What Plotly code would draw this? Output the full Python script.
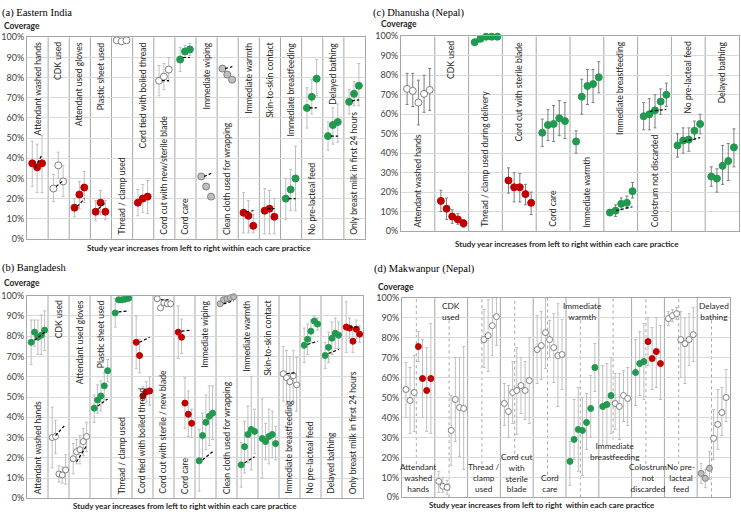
import numpy as np
import plotly.graph_objects as go

W, H = 741, 517
FONT = "Lato, 'Open Sans', sans-serif"
SERIF = "'Liberation Serif', 'DejaVu Serif', serif"
TXT = "#262626"

# ---------------- (a) Eastern India: 3 study years ----------------
a_cats = ["Attendant washed hands", "CDK used", "Attendant used gloves", "Plastic sheet used",
          "Thread / clamp used", "Cord tied with boiled thread", "Cord cut with new/sterile blade",
          "Cord care", "Immediate wiping", "Clean cloth used for wrapping", "Immediate warmth",
          "Skin-to-skin contact", "Immediate breastfeeding", "No pre-lacteal feed",
          "Delayed bathing", "Only breast milk in first 24 hours"]
a_kind = list("rwrrwrwgkkrrgggg")
a_vals = [[37.5, 35.5, 37.5], [25, 36.5, 28.5], [15.5, 22, 25.5], [13.5, 18, 13.5],
          [98.5, 98, 98.5], [18, 20, 21], [78.5, 80.5, 84], [89, 93, 94],
          [31, 26, 21], [84.5, 81.5, 79], [13, 11.5, 6.5], [14, 15, 11],
          [20, 24.5, 30], [65, 70.5, 79.5], [51, 56.5, 58], [68, 72, 76]]
a_lo = [[26, 23, 23], [18.5, 30, 21], [11, 15, 18], [9, 12, 9.5],
        None, [11.5, 13, 12.5], [71, 74, 78], [83, 90, 91],
        None, None, [3, 3, 3], [2.5, 2.5, 2.5],
        [9.5, 14, 14], [55, 62, 71], [44, 47, 48], [62, 66, 66]]
a_hi = [[48.5, 47, 51.5], [32, 43, 36.5], [20, 28.5, 33.5], [19, 24, 19],
        None, [24.5, 27, 29], [86, 87, 90], [95, 96, 97],
        None, None, [23, 19, 12], [25, 24, 20],
        [30, 34.5, 46], [75, 79, 89], [58, 65, 67], [74, 78, 87]]
a_trend = [[35.5, 42], [26, 29], [16, 20], [15, 18], None, None, [78.5, 78.5], [90, 90],
           [31, 32.5], [84.5, 85.5], [13.5, 14], [15, 15], [20, 20], [65, 65], [51, 51], [68.5, 69]]
a_label_at = ["top", "top", "top", "top", "bottom", "top", "bottom", "bottom",
              "top", "bottom", "top", "top", "top", "bottom", "top", "bottom"]

# ---------------- (b) Bangladesh: 5 study years ----------------
b_cats = ["Attendant washed hands", "CDK used", "Attendant used gloves", "Plastic sheet used",
          "Thread / clamp used", "Cord tied with boiled thread", "Cord cut with sterile / new blade",
          "Cord care", "Immediate wiping", "Clean cloth used for wrapping", "Immediate warmth",
          "Skin-to-skin contact", "Immediate breastfeeding", "No pre-lacteal feed",
          "Delayed bathing", "Only breast milk in first 24 hours"]
b_kind = list("gwwggrwrgkggwggr")
b_vals = [[77, 82, 79.5, 80.5, 83], [30, 30.5, 12, 11.5, 14], [19.5, 23, 24, 28, 30.5],
          [44.5, 48.5, 50.5, 55.5, 63], [91.5, 98, 98, 98.3, 98.7], [77, 70.5, 50.5, 52.5, 53],
          [98.5, 94, 96.5, 96, 96], [82, 79.5, 47, 41.5, 37], [18.5, 31, 37.5, 40.5, 42],
          [96, 98, 98.5, 99, 99.5], [16.5, 25.5, 31.5, 34, 33], [29.5, 28, 30.5, 31.5, 27],
          [61.5, 59.5, 57.5, 60.5, 56], [75.5, 78.5, 82.5, 87.5, 86], [70.5, 74.5, 79, 81.5, 80.5],
          [84.5, 84, 77.5, 83.5, 81]]
b_lo = [[66, 75, 71, 71, 73], [15, 22, 8, 7.5, 7], [12, 17, 17, 21, 23],
        [37.5, 42, 43, 48.5, 57.5], [84.5, 97, 97, 97.5, 98], [64, 62, 46, 47.5, 46],
        None, [69, 71.5, 34.5, 30.5, 30], [3.5, 20, 24, 26, 29],
        None, [5.5, 12.5, 17.5, 14, 22], [10, 19, 17, 20, 19],
        [48, 46, 45, 48, 43], [67, 71, 77, 85, 83], [64, 67, 71, 74, 74],
        [72, 79, 72, 79, 77]]
b_hi = [[88, 88, 88, 90.5, 92.5], [45, 38.5, 16, 15.5, 21.5], [27, 29, 31, 34.5, 37.5],
        [51, 56, 58, 62, 68.5], [98.5, 99, 99, 99, 99.5], [90, 78.5, 55, 57.5, 60],
        None, [95, 88.5, 59.5, 53, 44], [34, 42, 51, 55.5, 55.5],
        None, [27.5, 38, 45.5, 60, 44], [49, 37, 44, 43, 35.5],
        [75, 73, 70, 73, 69.5], [84, 86, 88, 90, 89], [77, 82, 87, 89, 87],
        [97, 89, 83, 88, 85]]
b_trend = [[78, 82], [31, 36.5], [18, 26], [45.5, 49], [92, 92.5], [77, 79.5], [98, 98],
           [82.5, 83], [19, 23], [96, 97.5], [17.5, 20.5], None, [61.5, 62], [76, 77.5],
           [71.5, 73.5], [84.5, 84.5]]
b_label_at = ["bottom", "top", "top", "top", "bottom", "bottom", "bottom", "bottom",
              "top", "bottom", "top", "top", "bottom", "bottom", "bottom", "bottom"]

# ---------------- (c) Dhanusha (Nepal): 5 study years ----------------
c_cats = ["Attendant washed hands", "CDK used", "Thread / clamp used during delivery",
          "Cord cut with sterile blade", "Cord care", "Immediate warmth", "Immediate breastfeeding",
          "Colostrum not discarded", "No pre-lacteal feed", "Delayed bathing"]
c_kind = list("wrgrgggggg")
c_vals = [[73, 72, 66, 70.5, 72.5], [15.5, 11.5, 7.5, 6, 4], [97, 98.7, 99.8, 99.8, 99.8],
          [26, 22.5, 22.5, 19, 14.5], [50.5, 54.5, 55, 58, 56.5], [46, 69, 74.5, 75.5, 79],
          [9.5, 10.5, 14, 14.5, 20.5], [59, 60, 62, 66.5, 70], [44, 46.5, 47, 51.5, 55],
          [28, 27, 33.5, 36, 43]]
c_lo = [[65, 64, 54.5, 61, 62], [10, 6, 4, 3.5, 2], None,
        [19.5, 15, 15, 13.5, 8.5], [43.5, 46.5, 46, 49, 47.5], [40, 60, 65, 66, 71],
        [8, 7.5, 11, 12, 17], [52, 52, 53, 60, 64], [38, 40, 41, 47, 50],
        [23, 20, 24, 26, 33]]
c_hi = [[81, 81, 77.5, 80, 83.5], [21, 17, 11, 9, 6], None,
        [32.5, 30, 29.5, 24, 20], [57.5, 62.5, 64.5, 67, 66], [51.5, 78, 83, 83, 87],
        [11, 13.5, 17, 18, 25], [66, 68, 70, 73, 76], [50, 53, 53, 56.5, 60],
        [33, 32, 44, 45, 52.5]]
c_trend = [None, None, None, None, None, None, [10.5, 12.5], [61.5, 62.5], [46, 48], None]
c_label_at = ["bottom", "top", "bottom", "top", "bottom", "bottom", "top", "bottom", "top", "top"]

# ---------------- (d) Makwanpur (Nepal): 7 study years ----------------
d_cats = ["Attendant<br>washed<br>hands", "CDK<br>used", "Thread /<br>clamp<br>used",
          "Cord cut<br>with<br>sterile<br>blade", "Cord<br>care", "Immediate<br>warmth",
          "Immediate<br>breastfeeding", "Colostrum<br>not<br>discarded", "No pre-<br>lacteal<br>feed",
          "Delayed<br>bathing"]
d_kind = ["wr", "ww", "ww", "ww", "ww", "gg", "gw", "gr", "ww", "kw"]
d_vals = [[54, 48.5, 52.5, 75.5, 59.5, 53.5, 59.5], [8, 5.5, 5, 33.5, 49, 45, 44.5],
          [None, None, None, 79, 81, 86, 90.5], [47, 43, 52.5, 53.5, 56, 53.5, 58.5],
          [74, 76, 82.5, 79, 75, 71, 71.5], [18, 29, 34, 33.5, 37.5, 44.5, 65],
          [45.5, 46.5, 51, 47, 45.5, 51, 49.5], [62.5, 67, 68, 78, 69.5, 73, 67],
          [89.5, 91, 92, 79, 77, 79, 81.5], [12, 9.5, 14.5, 29.5, 36.5, 42.5, 50]]
d_lo = [[40, 32, 33, 68, 40, 33, 32], [2.5, 2.5, 1.5, 16, 28, 20.5, 14],
        [None, None, None, 65, 63, 71, 76], [36, 30, 37, 31.5, 42, 39, 37],
        [57, 59, 64.5, 70, 57.5, 45.5, 54], [6, 19, 13, 11, 24, 30, 53],
        [26, 26, 32, 34, 29, 38, 36], [46, 51, 49, 66, 54, 55, 49],
        [86, 88, 89, 60, 57, 66, 68], [7, 5, 9, 19, 24, 31, 38]]
d_hi = [[67.5, 65, 71, 83, 79, 75, 87], [13, 10, 8.5, 51, 70, 70, 75.5],
        [None, None, None, 94, 99, 100, 100], [57, 56, 68, 75, 70, 68, 80],
        [91, 93, 100, 88.5, 92, 97, 89], [28, 49, 55, 50, 52, 61, 77],
        [66, 67, 70, 62, 62, 63.5, 65], [79, 83, 87, 90, 85, 90, 86],
        [93, 94, 95, 93, 90, 92, 95], [17, 14, 23, 44, 54, 55, 64]]
d_trend = [None] * 10
d_label_at = ["bottom", "top", "bottom", "bottom", "bottom", "top", "middle", "bottom", "bottom", "top"]

FILL = {"r": "#c00000", "g": "#1f9a4f", "w": "#ffffff", "k": "#bfbfbf"}
EDGE = {"r": "#c00000", "g": "#1f9a4f", "w": "#7f7f7f", "k": "#7f7f7f"}
GRID = "#d9d9d9"
DIV = "#a6a6a6"

fig = go.Figure()


def add_panel(n, box, cats, vals, lo, hi, kinds, trend, label_at, offsets, span,
              err_col, msize, nepal_style=False):
    xa = "x" if n == 1 else f"x{n}"
    ya = "y" if n == 1 else f"y{n}"
    (x0, x1), (y0, y1) = box
    fig.update_layout(**{
        "xaxis" if n == 1 else f"xaxis{n}": dict(
            domain=[x0 / W, x1 / W], range=[0, len(cats)], anchor=ya,
            showticklabels=False, showgrid=False, zeroline=False, ticks="",
            showline=True, mirror=True, linecolor=DIV, linewidth=1),
        "yaxis" if n == 1 else f"yaxis{n}": dict(
            domain=[1 - y1 / H, 1 - y0 / H], range=[0, 100], anchor=xa,
            tickvals=list(range(0, 101, 10)), ticktext=[f"{v}%" for v in range(0, 101, 10)],
            showgrid=True, gridcolor=GRID, gridwidth=1, zeroline=False, ticks="",
            showline=True, mirror=True, linecolor=DIV, linewidth=1,
            tickfont=dict(family=FONT, size=9, color="#404040")),
    })

    # column dividers
    for i in range(1, len(cats)):
        fig.add_shape(type="line", xref=xa, yref=ya, x0=i, x1=i, y0=0, y1=100,
                      line=dict(color=DIV, width=1), layer="below")

    # points grouped by marker kind
    pts = {}
    for i in range(len(cats)):
        for j, v in enumerate(vals[i]):
            if v is None:
                continue
            k = kinds[i][0] if (len(kinds[i]) == 1 or j < 3) else kinds[i][1]
            p = pts.setdefault(k, dict(x=[], y=[], up=[], dn=[]))
            p["x"].append(i + offsets[j])
            p["y"].append(v)
            p["up"].append(0 if hi[i] is None else hi[i][j] - v)
            p["dn"].append(0 if lo[i] is None else v - lo[i][j])
    for k in ["w", "k", "r", "g"]:
        if k not in pts:
            continue
        p = pts[k]
        fig.add_trace(go.Scatter(
            x=p["x"], y=p["y"], xaxis=xa, yaxis=ya, mode="markers",
            marker=dict(size=msize, color=FILL[k], line=dict(color=EDGE[k], width=1)),
            error_y=dict(type="data", symmetric=False, array=p["up"], arrayminus=p["dn"],
                         color=err_col, thickness=1, width=1.5),
            cliponaxis=False, showlegend=False, hoverinfo="skip"))

    # dashed black trend marks
    tx, ty = [], []
    for i, t in enumerate(trend):
        if t is None:
            continue
        tx += [i + span[0], i + span[1], None]
        ty += [t[0], t[1], None]
    if tx:
        fig.add_trace(go.Scatter(x=tx, y=ty, xaxis=xa, yaxis=ya, mode="lines",
                                 line=dict(color="black", width=1.2, dash="3px,2px"),
                                 showlegend=False, hoverinfo="skip"))

    # practice labels
    for i, (cat, at) in enumerate(zip(cats, label_at)):
        if not nepal_style:
            fig.add_annotation(x=i + 0.5, y=98.5 if at == "top" else 1, xref=xa, yref=ya,
                               text=cat, textangle=-90, showarrow=False, xanchor="center",
                               yanchor="top" if at == "top" else "bottom",
                               font=dict(family=FONT, size=8.6, color=TXT))
        else:
            nl = cat.count("<br>") + 1
            gap = 1 + 5.2 * nl
            ypos = {"top": 99.5, "bottom": 0.5, "middle": 23}[at]
            yanc = {"top": "top", "bottom": "bottom", "middle": "middle"}[at]
            fig.add_annotation(x=i + 0.5, y=ypos, xref=xa, yref=ya, text=cat,
                               showarrow=False, xanchor="center", yanchor=yanc,
                               font=dict(family=FONT, size=8.3, color=TXT))
            if at == "top":
                d0, d1 = 0, 100 - gap
            elif at == "bottom":
                d0, d1 = gap, 100
            else:
                d0, d1 = 29, 100
            xm = i + (offsets[2] + offsets[3]) / 2
            fig.add_shape(type="line", xref=xa, yref=ya, x0=xm, x1=xm, y0=d0, y1=d1,
                          line=dict(color=DIV, width=1, dash="dot"), layer="below")


add_panel(1, ((27, 365), (32, 238)), a_cats, a_vals, a_lo, a_hi, a_kind, a_trend, a_label_at,
          np.linspace(0.25, 0.71, 3), (0.38, 0.72), "#bfbfbf", 7)
add_panel(2, ((27, 363), (296, 503)), b_cats, b_vals, b_lo, b_hi, b_kind, b_trend, b_label_at,
          np.linspace(0.2, 0.84, 5), (0.36, 0.84), "#bfbfbf", 6)
add_panel(3, ((401, 739), (31, 230)), c_cats, c_vals, c_lo, c_hi, c_kind, c_trend, c_label_at,
          np.linspace(0.18, 0.85, 5), (0.36, 0.85), "#7f7f7f", 7)
add_panel(4, ((402, 730), (298, 502)), d_cats, d_vals, d_lo, d_hi, d_kind, d_trend, d_label_at,
          np.linspace(0.12, 0.88, 7), (0, 0), "#bfbfbf", 6, nepal_style=True)

# titles, axis captions
titles = [("(a) Eastern India", 0, 7), ("(b) Bangladesh", 0, 268),
          ("(c) Dhanusha (Nepal)", 371, 7), ("(d) Makwanpur (Nepal)", 372, 269)]
for t, px, py in titles:
    fig.add_annotation(text=t, xref="paper", yref="paper", x=px / W, y=1 - py / H,
                       xanchor="left", yanchor="middle", showarrow=False,
                       font=dict(family=SERIF, size=10.5, color="black"))
for px, py in [(2, 20), (2, 283), (379, 18), (376, 287)]:
    fig.add_annotation(text="<b>Coverage</b>", xref="paper", yref="paper", x=px / W, y=1 - py / H,
                       xanchor="left", yanchor="middle", showarrow=False,
                       font=dict(family=FONT, size=8.5, color=TXT))
xcap = "<b>Study year increases from left to right within each care practice</b>"
for px, py, txt in [(199, 247, xcap), (185, 511, xcap), (567, 243, xcap),
                    (542, 510, xcap.replace("right within", "right  within"))]:
    fig.add_annotation(text=txt, xref="paper", yref="paper", x=px / W, y=1 - py / H,
                       xanchor="center", yanchor="middle", showarrow=False,
                       font=dict(family=FONT, size=8, color=TXT))

fig.update_layout(width=W, height=H, margin=dict(l=0, r=0, t=0, b=0),
                  paper_bgcolor="white", plot_bgcolor="white", showlegend=False)

fig.write_html("out.html", config={"displayModeBar": False},
               post_script="document.body.style.margin='0';")
